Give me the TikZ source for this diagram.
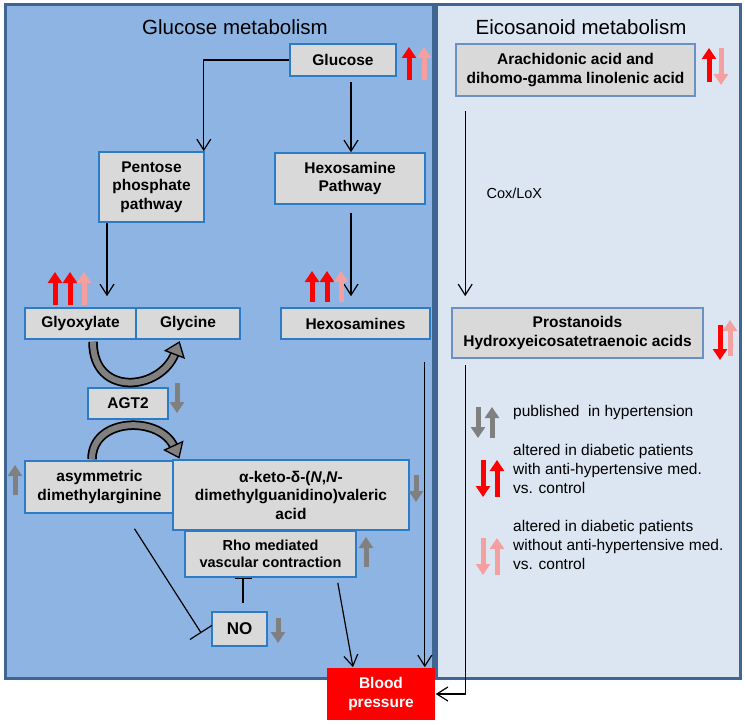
\documentclass[tikz,border=0pt]{standalone}
\usepackage{fontspec}
\setmainfont{Liberation Sans}
\usetikzlibrary{arrows.meta,calc,decorations.markings}

\definecolor{panelblue}{HTML}{8EB4E3}
\definecolor{panellight}{HTML}{DCE6F2}
\definecolor{paneledge}{HTML}{3F6593}
\definecolor{boxgray}{HTML}{D9D9D9}
\definecolor{boxedge}{HTML}{2C7BC6}
\definecolor{boxedgelight}{HTML}{6A91C2}
\definecolor{markgray}{HTML}{808080}
\definecolor{markpink}{HTML}{F4A0A0}

\begin{document}
\begin{tikzpicture}[x=1pt, y=-1pt,
    component/.style={rectangle, draw=boxedge, line width=1.6pt, fill=boxgray, align=center, inner sep=2pt, font=\bfseries\fontsize{15.5}{18.5}\selectfont},
    lightcomponent/.style={component, draw=boxedgelight},
    title/.style={font=\fontsize{20.5}{24}\selectfont},
    legendtext/.style={anchor=west, align=left, inner sep=0pt, font=\fontsize{15.5}{19}\selectfont},
    arrow/.style={-{Straight Barb[length=11pt,width=14pt]}, line width=1.2pt},
    inhibit/.style={-{Bar[width=17pt]}, line width=1.2pt},
    chg/.style={line width=5pt, -{Triangle[width=14pt,length=11pt]}},
    turn/.style={draw=markgray, line width=6pt, preaction={draw=black, line width=9.5pt},
      postaction={decorate, decoration={markings, mark=at position 0.995 with {\filldraw[fill=markgray, draw=black, line width=1.3pt] (-1pt,-10pt) -- (12pt,0pt) -- (-1pt,10pt) -- cycle;}}}}
]
\useasboundingbox (0,0) rectangle (745,725);

% Panels
\draw[paneledge, line width=3pt, fill=panelblue] (5,5) rectangle (433,678);
\draw[paneledge, line width=3pt, fill=panellight] (436,5) rectangle (740,678);
\node[title] at (235,27) (glutitle) {Glucose metabolism};
\node[title] at (581,27) (eicotitle) {Eicosanoid metabolism};

% Glucose metabolism
\node[component, minimum width=106pt, minimum height=32pt] at (343,60) (glucose) {Glucose};
\node[component, minimum width=105pt, minimum height=70pt] at (151.5,187) (pentose) {Pentose\\phosphate\\pathway};
\node[component, minimum width=150pt, minimum height=51pt] at (350,178.5) (hexpath) {Hexosamine\\Pathway};
\node[component, minimum width=111pt, minimum height=31pt] at (80.5,323.5) (glyox) {Glyoxylate};
\node[component, minimum width=104pt, minimum height=31pt] at (188,323.5) (glycine) {Glycine};
\node[component, minimum width=149pt, minimum height=31pt] at (355.5,323.5) (hexamines) {Hexosamines};
\node[component, minimum width=80pt, minimum height=31pt] at (128,403.5) (agt) {AGT2};
\node[component, minimum width=149pt, minimum height=52pt] at (99.5,487) (adma) {asymmetric\\dimethylarginine};
\node[component, minimum width=236pt, minimum height=70pt] at (291,495) (keto) {α-keto-δ-(\textit{N},\textit{N}-\\dimethylguanidino)valeric\\acid};
\node[component, minimum width=171pt, minimum height=46pt, font=\bfseries\fontsize{14.5}{16.7}\selectfont] at (270.5,554) (rho) {Rho mediated\\vascular contraction};
\node[component, minimum width=55pt, minimum height=34pt, font=\bfseries\fontsize{17}{20}\selectfont] at (239.5,629) (no) {NO};

% Eicosanoid metabolism
\node[lightcomponent, minimum width=239pt, minimum height=52pt] at (575.5,70) (arach) {Arachidonic acid and\\dihomo-gamma linolenic acid};
\node[lightcomponent, minimum width=251pt, minimum height=50pt] at (577.5,333) (prost) {Prostanoids\\Hydroxyeicosatetraenoic acids};
\node[anchor=west, font=\fontsize{14.5}{17}\selectfont] at (483,193) (cox) {Cox/LoX};

% Blood pressure
\node[component, draw=none, fill=red, text=white, minimum width=108pt, minimum height=52pt] at (381,694) (bp) {Blood\\pressure};

% Pathway arrows
\draw[arrow] (glucose.west) -| ([xshift=-1pt]pentose.north east);
\draw[arrow] ([xshift=8pt,yshift=-5pt]glucose.south) coordinate (g1) -- (g1 |- hexpath.north);
\draw[arrow] ([xshift=-44.5pt]pentose.south) coordinate (p1) -- ($(p1 |- glyox.north)+(0,-11)$);
\draw[arrow] ([xshift=1pt,yshift=-8pt]hexpath.south) coordinate (h1) -- ($(h1 |- hexamines.north)+(0,-11)$);
\draw[arrow] ([xshift=-6pt,yshift=-22pt]hexamines.south east) coordinate (h2) -- (h2 |- bp.north);
\draw[arrow] ([xshift=-19pt,yshift=-5pt]rho.south east) -- ([xshift=-28pt]bp.north);
\draw[arrow] ([xshift=10pt,yshift=-14pt]arach.south west) coordinate (a1) -- ($(a1 |- prost.north)+(0,-11)$);
\draw[arrow] ([xshift=14pt,yshift=-6pt]prost.south west) |- (bp.east);

% Inhibitions
\draw[inhibit, -{Bar[width=26pt]}] ([xshift=35pt,yshift=-15pt]adma.south) -- ([xshift=-10pt,yshift=-4pt]no.west);
\draw[inhibit] ([xshift=3.5pt,yshift=8pt]no.north) coordinate (n1) -- (n1 |- rho.south);

% AGT2 transamination
\draw[turn] ([xshift=12.5pt,yshift=-2pt]glyox.south) .. controls +(0,56) and +(-14,38) .. ([xshift=40pt,yshift=-13pt]glycine.south west);
\draw[turn] ([xshift=-7.5pt,yshift=1pt]adma.north) .. controls +(0,-42) and +(-14,-32) .. ([xshift=2pt,yshift=12pt]keto.north west);

% Change markers
\draw[chg, red] (409,80) -- (409,47);
\draw[chg, markpink] (424,80) -- (424,47);
\draw[chg, red] (55,305) -- (55,272);
\draw[chg, red] (70,305) -- (70,272);
\draw[chg, markpink] (84,305) -- (84,272);
\draw[chg, red] (312,302) -- (312,271);
\draw[chg, red] (327,302) -- (327,271);
\draw[chg, markpink] (341,302) -- (341,271);
\draw[chg, markgray] (177,383) -- (177,413);
\draw[chg, markgray] (15,495) -- (15,465);
\draw[chg, markgray] (416,475) -- (416,502);
\draw[chg, markgray] (366,567) -- (366,537);
\draw[chg, markgray] (278,618) -- (278,643);
\draw[chg, red] (709,82) -- (709,48);
\draw[chg, markpink] (721,48) -- (721,85);
\draw[chg, markpink] (730,356) -- (730,320);
\draw[chg, red] (720,325) -- (720,360);

% Legend
\draw[chg, markgray] (478,407) -- (478,438);
\draw[chg, markgray] (492,438) -- (492,407);
\draw[chg, red] (483,460) -- (483,497);
\draw[chg, red] (497,497) -- (497,460);
\draw[chg, markpink] (483,538) -- (483,575);
\draw[chg, markpink] (497,575) -- (497,538);
\node[legendtext] at (513,412) (legpub) {published\ \ in hypertension};
\node[legendtext] at (513,469) (legwith) {altered in diabetic patients\\with anti-hypertensive med.\\vs. control};
\node[legendtext] at (513,545) (legwithout) {altered in diabetic patients\\without anti-hypertensive med.\\vs. control};

\end{tikzpicture}
\end{document}
